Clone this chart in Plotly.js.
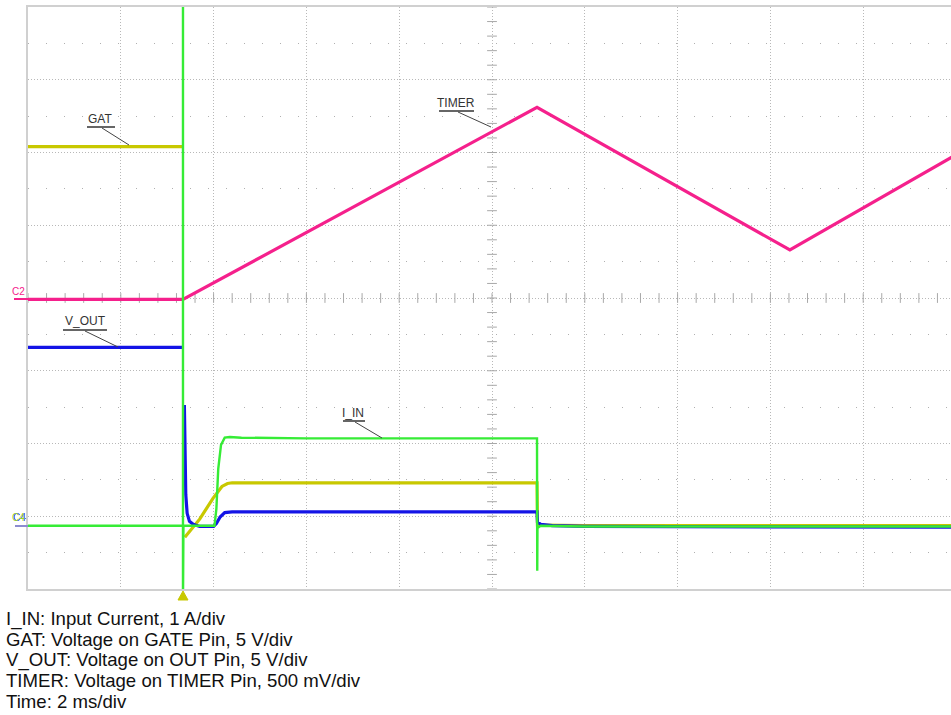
<!DOCTYPE html>
<html>
<head>
<meta charset="utf-8">
<script src="https://cdn.plot.ly/plotly-3.0.1.min.js"></script>
<style>
html,body{margin:0;padding:0;background:#fff;overflow:hidden;width:951px;height:715px;}
#chart{width:960px;height:715px;}
</style>
</head>
<body>
<div id="chart"></div>
<script>
// Time axis in ms (2 ms/div, 10 divisions); vertical axis in screen divisions (8 divisions)
const timerTime = [0, 3.34, 10.97, 16.42, 20];
const timerDiv  = [3.98, 3.98, 6.62, 4.66, 5.97];

const gatTime = [0, 3.34, null, 3.38, 3.70, 3.99, 4.10, 4.18, 4.30, 4.40, 10.97, 10.98, 11.05, 12.0, 20];
const gatDiv  = [6.08, 6.08, null, 0.71, 0.96, 1.25, 1.34, 1.41, 1.45, 1.46, 1.46, 0.88, 0.88, 0.87, 0.87];

const voutTime = [0, 3.34, null, 3.37, 3.38, 3.40, 3.43, 3.48, 3.56, 3.70, 4.00, 4.06, 4.14, 4.24, 4.40, 10.97, 10.98, 11.05, 11.3, 12.0, 20];
const voutDiv  = [3.32, 3.32, null, 2.53, 1.80, 1.30, 1.04, 0.93, 0.89, 0.86, 0.86, 0.90, 0.99, 1.05, 1.06, 1.06, 0.92, 0.89, 0.87, 0.86, 0.85];

const iinTime = [0, 3.34, 3.34, 3.34, 3.35, 3.60, 4.02, 4.06, 4.10, 4.16, 4.24, 4.35, 4.60, 6.0, 10.97, 10.975, 10.98, 11.05, 12.0, 20];
const iinDiv  = [0.87, 0.87, 8.2, -0.2, 0.87, 0.87, 0.87, 1.10, 1.65, 1.98, 2.08, 2.09, 2.08, 2.07, 2.07, 0.25, 0.84, 0.87, 0.86, 0.86];

const traceNames = ["TIMER", "GAT", "V_OUT", "I_IN"];
const traceColors = ["#f5208c", "#c8c800", "#1414e6", "#36ec36"];

const captionLines = [
  "I_IN: Input Current, 1 A/div",
  "GAT: Voltage on GATE Pin, 5 V/div",
  "V_OUT: Voltage on OUT Pin, 5 V/div",
  "TIMER: Voltage on TIMER Pin, 500 mV/div",
  "Time: 2 ms/div"
];

// ---- geometry helpers (pixel -> axis/paper) ----
const L = 28, T = 7, PW = 928, PH = 582;
const X0 = 0, X1 = 20, Y0 = 0, Y1 = 8;
const px2x = p => X0 + (p - L) / PW * (X1 - X0);
const py2y = p => Y0 + (T + PH - p) / PH * (Y1 - Y0);
const px2paper = p => (p - L) / PW;
const py2paper = p => (T + PH - p) / PH;

const traces = [];
// center graticule tick marks
const vTickY = [], vTickX = [];
for (let k = 0; k <= 40; k++) { vTickY.push(k * 0.2); vTickX.push(10); }
const hTickX = [], hTickY = [];
for (let k = 0; k <= 50; k++) { hTickX.push(k * 0.4); hTickY.push(4); }
traces.push({x: vTickX, y: vTickY, mode: 'markers', hoverinfo: 'skip', showlegend: false,
  marker: {symbol: 'line-ew', size: 7, line: {width: 1, color: '#a8a8a8'}}});
traces.push({x: hTickX, y: hTickY, mode: 'markers', hoverinfo: 'skip', showlegend: false,
  marker: {symbol: 'line-ns', size: 7, line: {width: 1, color: '#a8a8a8'}}});

const series = [[timerTime, timerDiv, 3.2], [gatTime, gatDiv, 3.2], [voutTime, voutDiv, 3.2], [iinTime, iinDiv, 2.4]];
series.forEach((s, i) => {
  traces.push({x: s[0], y: s[1], mode: 'lines', name: traceNames[i], hoverinfo: 'skip',
    connectgaps: false, line: {color: traceColors[i], width: s[2]}});
});

// ---- labels with underline and leader ----
const labels = [
  {t: "GAT",   cx: 100, cy: 119, ux0: 87,  ux1: 115, uy: 127, lx0: 102, ly0: 128, lx1: 129, ly1: 145},
  {t: "V_OUT", cx: 85,  cy: 321, ux0: 63,  ux1: 107, uy: 330, lx0: 85,  ly0: 331, lx1: 118, ly1: 347},
  {t: "I_IN",  cx: 353, cy: 413, ux0: 343, ux1: 365, uy: 421, lx0: 355, ly0: 422, lx1: 382, ly1: 438},
  {t: "TIMER", cx: 456, cy: 103, ux0: 439, ux1: 474, uy: 111, lx0: 458, ly0: 112, lx1: 491, ly1: 127}
];
const annotations = [];
const shapes = [];
labels.forEach(l => {
  annotations.push({x: px2x(l.cx), y: py2y(l.cy), xref: 'x', yref: 'y', text: l.t, showarrow: false,
    font: {family: 'Liberation Sans, Arial, sans-serif', size: 12, color: '#333'}, xanchor: 'center', yanchor: 'middle'});
  shapes.push({type: 'line', xref: 'x', yref: 'y', x0: px2x(l.ux0), x1: px2x(l.ux1), y0: py2y(l.uy), y1: py2y(l.uy),
    line: {color: '#333', width: 1.5}});
  shapes.push({type: 'line', xref: 'x', yref: 'y', x0: px2x(l.lx0), x1: px2x(l.lx1), y0: py2y(l.ly0), y1: py2y(l.ly1),
    line: {color: '#444', width: 1}});
});

// channel reference markers on the left
annotations.push({xref: 'paper', yref: 'paper', x: px2paper(18), y: py2paper(291), text: 'C2', showarrow: false,
  font: {family: 'Liberation Sans, Arial, sans-serif', size: 10, color: '#f5208c'}, xanchor: 'center', yanchor: 'middle'});
shapes.push({type: 'line', xref: 'paper', yref: 'paper', x0: px2paper(14), x1: px2paper(28), y0: py2paper(299), y1: py2paper(299),
  line: {color: '#f5208c', width: 2}});
annotations.push({xref: 'paper', yref: 'paper', x: px2paper(19), y: py2paper(517), text: 'C4', showarrow: false,
  font: {family: 'Liberation Sans, Arial, sans-serif', size: 10, color: '#1414e6'}, xanchor: 'center', yanchor: 'middle'});
annotations.push({xref: 'paper', yref: 'paper', x: px2paper(18), y: py2paper(517), text: 'C4', showarrow: false,
  font: {family: 'Liberation Sans, Arial, sans-serif', size: 10, color: '#9ad82a'}, xanchor: 'center', yanchor: 'middle'});
shapes.push({type: 'line', xref: 'paper', yref: 'paper', x0: px2paper(15), x1: px2paper(28), y0: py2paper(526), y1: py2paper(526),
  line: {color: '#8c8cd0', width: 2}});

// trigger marker
const tx = 183;
shapes.push({type: 'path', xref: 'paper', yref: 'paper',
  path: 'M ' + px2paper(tx) + ' ' + py2paper(591) + ' L ' + px2paper(tx - 5) + ' ' + py2paper(600) + ' L ' + px2paper(tx + 5) + ' ' + py2paper(600) + ' Z',
  fillcolor: '#c8c800', line: {color: '#c8c800', width: 1}});

// caption block: one annotation per line
captionLines.forEach((line, i) => {
  annotations.push({xref: 'paper', yref: 'paper', x: px2paper(5), y: py2paper(619 + i * 20.6), xanchor: 'left', yanchor: 'middle',
    align: 'left', showarrow: false, borderpad: 0, text: line,
    font: {family: 'Liberation Sans, Arial, sans-serif', size: 18.6, color: '#111'}});
});

const layout = {
  width: 960, height: 715,
  margin: {l: L, r: 960 - L - PW, t: T, b: 715 - T - PH, pad: 0},
  paper_bgcolor: '#fff', plot_bgcolor: '#fff',
  showlegend: false,
  xaxis: {range: [X0, X1], tick0: 0, dtick: 2, showticklabels: false, ticks: '', zeroline: false,
    showgrid: true, gridcolor: '#b8b8b8', gridwidth: 1, griddash: '1px,2px',
    showline: true, mirror: true, linecolor: '#d0d0d0', linewidth: 2, fixedrange: true},
  yaxis: {range: [Y0, Y1], tick0: 0, dtick: 1, showticklabels: false, ticks: '', zeroline: false,
    showgrid: true, gridcolor: '#b8b8b8', gridwidth: 1, griddash: '1px,2px',
    minor: {tick0: 0.5, dtick: 1, showgrid: true, gridcolor: '#b0b0b0', gridwidth: 1, griddash: '1px,17px'},
    showline: true, mirror: true, linecolor: '#d0d0d0', linewidth: 2, fixedrange: true},
  annotations: annotations,
  shapes: shapes
};

Plotly.newPlot('chart', traces, layout, {displayModeBar: false, staticPlot: true});
</script>
</body>
</html>
